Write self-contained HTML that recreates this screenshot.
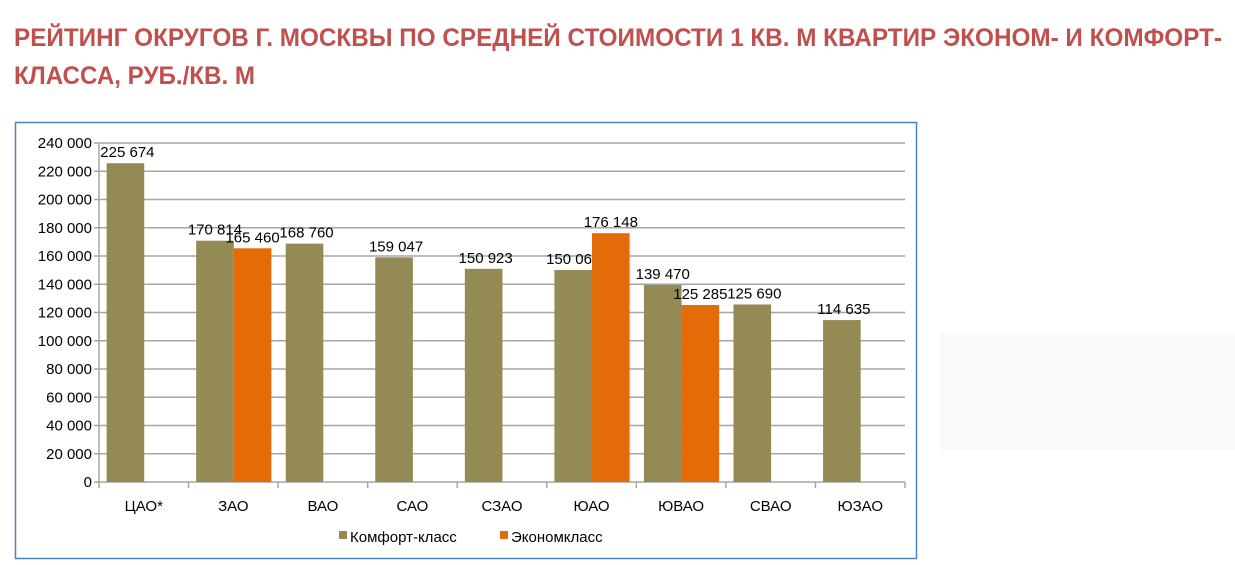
<!DOCTYPE html>
<html><head><meta charset="utf-8"><style>
body{margin:0;width:1235px;height:560px;overflow:hidden;background:#fff;font-family:"Liberation Sans",sans-serif;}
</style></head><body>
<svg width="1235" height="560" xmlns="http://www.w3.org/2000/svg">
<text x="14" y="46" font-size="25" font-weight="bold" fill="#c0504d" textLength="1208" lengthAdjust="spacingAndGlyphs">РЕЙТИНГ ОКРУГОВ Г. МОСКВЫ ПО СРЕДНЕЙ СТОИМОСТИ 1 КВ. М КВАРТИР ЭКОНОМ- И КОМФОРТ-</text>
<text x="14" y="84" font-size="25" font-weight="bold" fill="#c0504d" textLength="241" lengthAdjust="spacingAndGlyphs">КЛАССА, РУБ./КВ. М</text>
<rect x="940" y="333" width="295" height="117" fill="#f9f9f9"/>
<rect x="15.5" y="122.5" width="901" height="436" fill="#fff" stroke="#4f81bd" stroke-width="1.5"/>
<g id="plot"></g>
<g>
<rect x="339" y="531" width="8" height="8" fill="#948a54"/>
<text x="350" y="542" font-size="15" fill="#000">Комфорт-класс</text>
<rect x="500" y="531" width="8" height="8" fill="#e36c09"/>
<text x="511" y="542" font-size="15" fill="#000">Экономкласс</text>
</g>
</svg>
<script>
const categories=["ЦАО*","ЗАО","ВАО","САО","СЗАО","ЮАО","ЮВАО","СВАО","ЮЗАО"];
const comfort=[225674,170814,168760,159047,150923,150063,139470,125690,114635];
const economy=[null,165460,null,null,null,176148,125285,null,null];
const yTicks=[0,20000,40000,60000,80000,100000,120000,140000,160000,180000,200000,220000,240000];
const x0=99,x1=905,y0=482,y1=143,ymax=240000;
const bw=(x1-x0)/categories.length;
const Y=v=>y0-(v/ymax)*(y0-y1);
const X=i=>x0+i*bw;
const fmt=v=>String(v).replace(/\B(?=(\d{3})+(?!\d))/g," ");
const g=document.getElementById('plot');
const NS="http://www.w3.org/2000/svg";
function mk(t,a){const e=document.createElementNS(NS,t);for(const k in a)e.setAttribute(k,a[k]);g.appendChild(e);return e;}
yTicks.forEach(v=>{
 const l=mk('line',{x1:x0-5,x2:x1,y1:Y(v),y2:Y(v),stroke:'#a6a6a6','stroke-width':1.5});
 
 
 const t=mk('text',{x:x0-7,y:Y(v)+5,'font-size':15,'text-anchor':'end',fill:'#000'});
 t.textContent=fmt(v);
 
 
});
const ax=mk('line',{x1:x0,x2:x0,y1:y1,y2:y0,stroke:'#a6a6a6','stroke-width':1.5});


for(let i=0;i<=categories.length;i++){
 const tk=mk('line',{x1:X(i),x2:X(i),y1:y0,y2:y0+6,stroke:'#a6a6a6','stroke-width':1.5});
 
 
}
const barW=bw*0.42,off=bw*0.085;
categories.forEach((c,i)=>{
 const t=mk('text',{x:X(i)+bw/2,y:511,'font-size':15,'text-anchor':'middle',fill:'#000'});
 t.textContent=c;
 
 
 const bx=X(i)+off;
 const r=mk('rect',{x:bx,y:Y(comfort[i]),width:barW,height:y0-Y(comfort[i]),fill:'#948a54'});
 
 
 const hasE=economy[i]!=null;
 const lt=mk('text',{x:hasE?bx+barW/2:bx+barW/2+2,y:Y(comfort[i])-(hasE&&economy[i]>comfort[i]?Y(0)-Y(0):0)-6,'font-size':15,'text-anchor':'middle',fill:'#000'});
 lt.textContent=fmt(comfort[i]);
 
 
 if(hasE){
  const ex=bx+barW;
  const e=mk('rect',{x:ex,y:Y(economy[i]),width:barW,height:y0-Y(economy[i]),fill:'#e36c09'});
  
  
  const et=mk('text',{x:ex+barW/2,y:Y(economy[i])-6,'font-size':15,'text-anchor':'middle',fill:'#000'});
  et.textContent=fmt(economy[i]);
  
  
 }
});
</script>
</body></html>
